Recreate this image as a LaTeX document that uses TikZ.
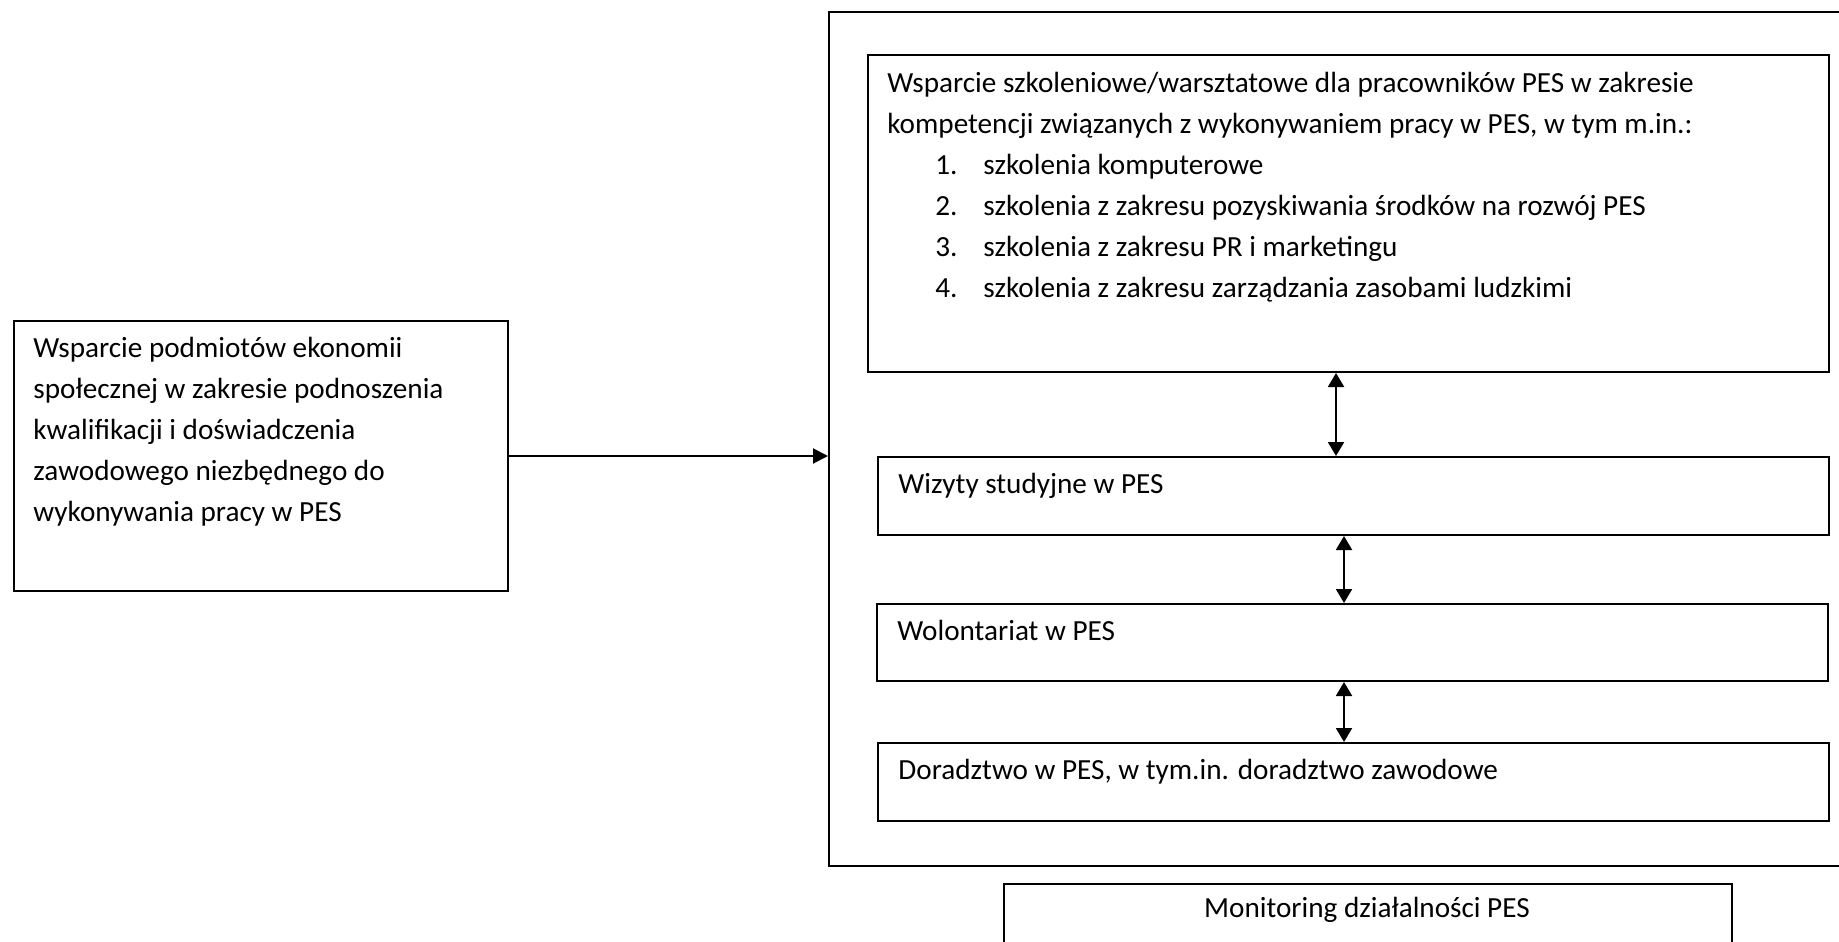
\documentclass[tikz,border=0pt]{standalone}
\usepackage{fontspec}
\setmainfont{Carlito}
\usetikzlibrary{arrows.meta}
\begin{document}
\begin{tikzpicture}[x=0.5pt,y=-0.5pt,
  frame/.style={draw=black, line width=1pt, inner sep=0pt, anchor=north west},
  txt/.style={inner sep=0pt, anchor=base west, font=\fontsize{14.6pt}{20.5pt}\selectfont},
  link/.style={line width=1pt, -{Triangle[length=7.5pt,width=7.5pt]}},
  both/.style={line width=1pt, {Triangle[length=7pt,width=8pt]}-{Triangle[length=7pt,width=8pt]}}]
\useasboundingbox (0,0) rectangle (1839,941);
\fill[white] (0,0) rectangle (1839,941);
\clip (0,0) rectangle (1839,941);

% boxes
\node[frame, minimum width=511pt, minimum height=427pt] (outer) at (828,11) {};
\node[frame, minimum width=480.5pt, minimum height=158.5pt] (train) at (867,54) {};
\node[frame, minimum width=247pt, minimum height=135pt] (goal) at (13,320) {};
\node[frame, minimum width=475.5pt, minimum height=39pt] (visit) at (877,456) {};
\node[frame, minimum width=475.5pt, minimum height=38.5pt] (volunteer) at (876,603) {};
\node[frame, minimum width=475.5pt, minimum height=39pt] (advice) at (877,742) {};
\node[frame, minimum width=364pt, minimum height=50pt] (monitor) at (1003,883) {};

% texts
\node[txt] (goaltxt) at (33,357) {\parbox[t]{240pt}{%
  Wsparcie podmiotów ekonomii\\
  społecznej w zakresie podnoszenia\\
  kwalifikacji i doświadczenia\\
  zawodowego niezbędnego do\\
  wykonywania pracy w PES}};
\node[txt] (traintxt) at (887,93) {\parbox[t]{470pt}{%
  Wsparcie szkoleniowe/warsztatowe dla pracowników PES w zakresie\\
  kompetencji związanych z wykonywaniem pracy w PES, w tym m.in.:\\
  \hspace*{24pt}\makebox[24pt][l]{1.}szkolenia komputerowe\\
  \hspace*{24pt}\makebox[24pt][l]{2.}szkolenia z zakresu pozyskiwania środków na rozwój PES\\
  \hspace*{24pt}\makebox[24pt][l]{3.}szkolenia z zakresu PR i marketingu\\
  \hspace*{24pt}\makebox[24pt][l]{4.}szkolenia z zakresu zarządzania zasobami ludzkimi}};
\node[txt] (visittxt) at (898,493) {Wizyty studyjne w PES};
\node[txt] (voltxt) at (897,640) {Wolontariat w PES};
\node[txt] (advtxt) at (898,779) {Doradztwo w PES, w tym.in. doradztwo zawodowe};
\node[txt, anchor=base] (montxt) at (1367,917) {Monitoring działalności PES};

% connectors
\draw[link] (goal.east) -- (goal.east -| outer.west);
\draw[both] ([xshift=-6.25pt]train.south) -- ([xshift=-6.25pt]train.south |- visit.north);
\draw[both] ([xshift=-4.75pt]visit.south) -- ([xshift=-4.75pt]visit.south |- volunteer.north);
\draw[both] ([xshift=-4.25pt]volunteer.south) -- ([xshift=-4.25pt]volunteer.south |- advice.north);
\end{tikzpicture}
\end{document}
